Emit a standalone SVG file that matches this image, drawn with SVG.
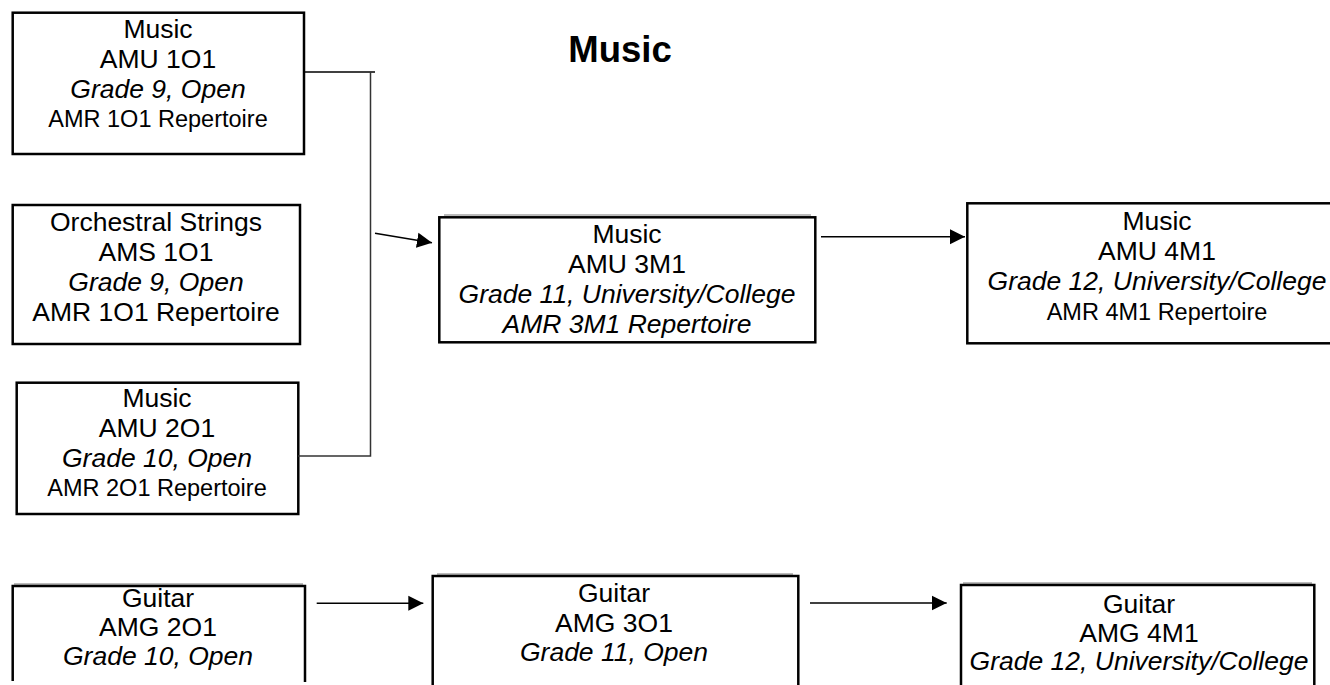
<svg xmlns="http://www.w3.org/2000/svg" width="1330" height="685" viewBox="0 0 1330 685">
<style>
.box{fill:#fff;stroke:#000;stroke-width:2.5}
.edge{fill:none;stroke:#000;stroke-width:2.5}
.ghost{stroke:#777;stroke-width:1}
text{font-family:"Liberation Sans",Arial,sans-serif;fill:#000;text-anchor:middle}
.t{font-size:26.5px}
.s{font-size:23.5px}
.i{font-style:italic}
.title{font-size:36.5px;font-weight:bold}
.conn{fill:none;stroke:#000;stroke-width:1.5}
.bus{fill:none;stroke:#333;stroke-width:1.5}
</style>
<defs>
<marker id="arr" markerUnits="userSpaceOnUse" markerWidth="16" markerHeight="16" viewBox="0 0 16 16" refX="15" refY="8" orient="auto">
<path d="M0,0.5 L15,8 L0,15.5 Z" fill="#000"/>
</marker>
</defs>

<text class="title" x="620" y="62">Music</text>

<g id="amu1o1">
<rect class="box" x="12.7" y="12.7" width="291.3" height="141.3"/>
<text class="t" x="158" y="38">Music</text>
<text class="t" x="158" y="68">AMU 1O1</text>
<text class="t i" x="158" y="98">Grade 9, Open</text>
<text class="s" x="158" y="127">AMR 1O1 Repertoire</text>
</g>

<g id="ams1o1">
<rect class="box" x="12.7" y="205" width="287.3" height="139"/>
<text class="t" x="156" y="231">Orchestral Strings</text>
<text class="t" x="156" y="261">AMS 1O1</text>
<text class="t i" x="156" y="291">Grade 9, Open</text>
<text class="t" x="156" y="321">AMR 1O1 Repertoire</text>
</g>

<g id="amu2o1">
<rect class="box" x="16.7" y="382.7" width="281.6" height="131.3"/>
<text class="t" x="157" y="407">Music</text>
<text class="t" x="157" y="437">AMU 2O1</text>
<text class="t i" x="157" y="467">Grade 10, Open</text>
<text class="s" x="157" y="496">AMR 2O1 Repertoire</text>
</g>

<g id="amu3m1">
<line class="ghost" x1="444" y1="215" x2="811" y2="215"/>
<rect class="box" x="439.3" y="217.3" width="376" height="125"/>
<text class="t" x="627" y="243">Music</text>
<text class="t" x="627" y="273">AMU 3M1</text>
<text class="t i" x="627" y="303">Grade 11, University/College</text>
<text class="t i" x="627" y="333">AMR 3M1 Repertoire</text>
</g>

<g id="amu4m1">
<rect class="box" x="967.3" y="203.3" width="380" height="140"/>
<text class="t" x="1157" y="230">Music</text>
<text class="t" x="1157" y="260">AMU 4M1</text>
<text class="t i" x="1157" y="290">Grade 12, University/College</text>
<text class="s" x="1157" y="320">AMR 4M1 Repertoire</text>
</g>

<g id="amg2o1">
<line class="ghost" x1="14" y1="584" x2="303" y2="584"/>
<path class="edge" d="M12.7,681 V586 H305 V682"/>
<text class="t" x="158" y="607">Guitar</text>
<text class="t" x="158" y="636">AMG 2O1</text>
<text class="t i" x="158" y="665">Grade 10, Open</text>
</g>

<g id="amg3o1">
<line class="ghost" x1="437" y1="574" x2="793" y2="574"/>
<path class="edge" d="M432.7,685 V576 H798.3 V685"/>
<text class="t" x="614" y="602">Guitar</text>
<text class="t" x="614" y="632">AMG 3O1</text>
<text class="t i" x="614" y="661">Grade 11, Open</text>
</g>

<g id="amg4m1">
<line class="ghost" x1="963" y1="583" x2="1312" y2="583"/>
<path class="edge" d="M961,685 V585 H1314.3 V685"/>
<text class="t" x="1139" y="613">Guitar</text>
<text class="t" x="1139" y="642">AMG 4M1</text>
<text class="t i" x="1139" y="670">Grade 12, University/College</text>
</g>

<g id="connectors">
<path class="conn" d="M305,72 H375"/>
<path class="bus" d="M370.5,72 V456 H298"/>
<line class="conn" x1="375" y1="233.3" x2="432" y2="242.7" marker-end="url(#arr)"/>
<line class="conn" x1="821" y1="236.7" x2="965" y2="236.7" marker-end="url(#arr)"/>
<line class="conn" x1="316.7" y1="603.3" x2="423.3" y2="603.3" marker-end="url(#arr)"/>
<line class="conn" x1="810" y1="603" x2="946.7" y2="603" marker-end="url(#arr)"/>
</g>
</svg>
